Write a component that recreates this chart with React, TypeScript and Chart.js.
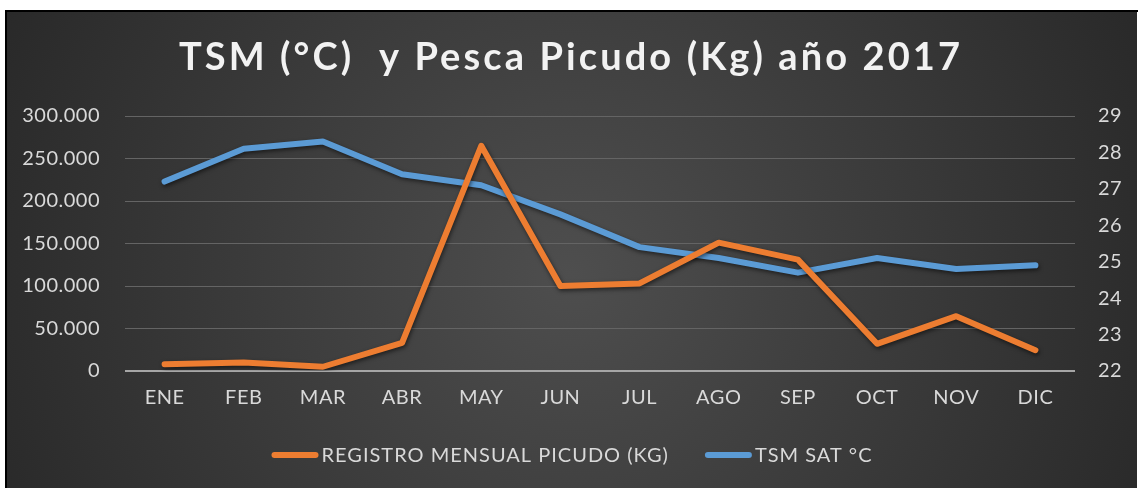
import React, { useEffect, useRef } from "react";
import { Chart, registerables } from "chart.js";

Chart.register(...registerables);

const months = ["ENE", "FEB", "MAR", "ABR", "MAY", "JUN", "JUL", "AGO", "SEP", "OCT", "NOV", "DIC"];
const picudoKg = [8000, 10000, 5000, 33000, 265000, 100000, 103000, 151000, 131000, 32000, 64500, 24500];
const tsmSat = [27.2, 28.1, 28.3, 27.4, 27.1, 26.3, 25.4, 25.1, 24.7, 25.1, 24.8, 24.9];
const leftTicks = [0, 50000, 100000, 150000, 200000, 250000, 300000];
const rightTicks = [22, 23, 24, 25, 26, 27, 28, 29];

const titleText = "TSM (°C)  y Pesca Picudo (Kg) año 2017";
const seriesNames = ["REGISTRO MENSUAL PICUDO (KG)", "TSM SAT °C"];
const ORANGE = "#ED7D31";
const BLUE = "#5B9BD5";
const TEXT = "#d9d9d9";
const FONT = "Lato, 'Open Sans', sans-serif";

const fmt = (v: number) => (v === 0 ? "0" : String(v).replace(/\B(?=(\d{3})+(?!\d))/g, "."));

const setSpacing = (ctx: any, s: string) => {
  if ("letterSpacing" in ctx) ctx.letterSpacing = s;
};

const deco = {
  id: "deco",
  beforeLayout(chart: any) {
    setSpacing(chart.ctx, "0.5px");
  },
  beforeDraw(chart: any) {
    const { ctx, width, height } = chart;
    ctx.save();
    const g = ctx.createRadialGradient(width / 2, height * 0.55, 0, width / 2, height * 0.55, width * 0.6);
    g.addColorStop(0, "#4e4e4e");
    g.addColorStop(1, "#262626");
    ctx.fillStyle = g;
    ctx.fillRect(0, 0, width, height);
    ctx.restore();
    setSpacing(ctx, "0.5px");
  },
  beforeDatasetDraw(chart: any) {
    const ctx = chart.ctx;
    ctx.save();
    ctx.shadowColor = "rgba(0,0,0,0.55)";
    ctx.shadowBlur = 4;
    ctx.shadowOffsetX = 1;
    ctx.shadowOffsetY = 2;
  },
  afterDatasetDraw(chart: any) {
    chart.ctx.restore();
  },
  afterDraw(chart: any) {
    const { ctx, width } = chart;
    // title
    ctx.save();
    setSpacing(ctx, "3.1px");
    ctx.font = `bold 38px ${FONT}`;
    ctx.fillStyle = "#f2f2f2";
    ctx.textAlign = "center";
    ctx.textBaseline = "middle";
    ctx.fillText(titleText, width / 2 - 1, 46);
    ctx.restore();

    // legend
    ctx.save();
    setSpacing(ctx, "1px");
    ctx.font = `20px ${FONT}`;
    ctx.textBaseline = "middle";
    ctx.textAlign = "left";
    const sw = 47;
    const gapText = 3;
    const gapItem = 36;
    const items = chart.data.datasets.map((d: any) => ({
      label: d.label,
      color: d.borderColor,
      w: ctx.measureText(d.label).width,
    }));
    const total = items.reduce((a: number, it: any) => a + sw + gapText + it.w, 0) + gapItem * (items.length - 1);
    let x = width / 2 - total / 2;
    const y = 443;
    for (const it of items) {
      ctx.strokeStyle = it.color;
      ctx.lineWidth = 6;
      ctx.lineCap = "round";
      ctx.beginPath();
      ctx.moveTo(x + 3, y);
      ctx.lineTo(x + sw - 3, y);
      ctx.stroke();
      ctx.fillStyle = TEXT;
      ctx.fillText(it.label, x + sw + gapText, y + 1);
      x += sw + gapText + it.w + gapItem;
    }
    ctx.restore();
  },
};

export default function App() {
  const ref = useRef<HTMLCanvasElement | null>(null);
  useEffect(() => {
    document.body.style.margin = "0";
    const c = ref.current!;
    const chart = new Chart(c, {
      type: "line",
      data: {
        labels: months,
        datasets: [
          {
            label: seriesNames[0],
            data: picudoKg,
            borderColor: ORANGE,
            backgroundColor: ORANGE,
            borderWidth: 6,
            pointRadius: 0,
            borderCapStyle: "round",
            borderJoinStyle: "round",
            yAxisID: "y",
            tension: 0,
          },
          {
            label: seriesNames[1],
            data: tsmSat,
            borderColor: BLUE,
            backgroundColor: BLUE,
            borderWidth: 6,
            pointRadius: 0,
            borderCapStyle: "round",
            borderJoinStyle: "round",
            yAxisID: "y1",
            tension: 0,
          },
        ],
      },
      plugins: [deco],
      options: {
        responsive: false,
        animation: false,
        layout: { padding: { left: 0, right: 0, top: 104, bottom: 77 } },
        plugins: {
          tooltip: { enabled: false },
          title: { display: false },
          legend: { display: false },
        },
        scales: {
          x: {
            offset: true,
            afterFit: (s: any) => {
              s.height = 40;
            },
            grid: { display: false, drawTicks: false },
            border: { display: false },
            ticks: { color: TEXT, font: { family: FONT, size: 20 }, padding: 15, maxRotation: 0 },
          },
          y: {
            position: "left",
            min: 0,
            max: 300000,
            afterBuildTicks: (s: any) => {
              s.ticks = leftTicks.map((v) => ({ value: v }));
            },
            afterFit: (s: any) => {
              s.width = 118;
            },
            grid: {
              drawTicks: false,
              color: (c: any) => (c.tick && c.tick.value === 0 ? "#a6a6a6" : "#646464"),
              lineWidth: (c: any) => (c.tick && c.tick.value === 0 ? 2 : 1),
            },
            border: { display: false },
            ticks: { color: TEXT, font: { family: FONT, size: 20 }, padding: 25, callback: (v: any) => fmt(Number(v)) },
          },
          y1: {
            position: "right",
            min: 22,
            max: 29,
            afterBuildTicks: (s: any) => {
              s.ticks = rightTicks.map((v) => ({ value: v }));
            },
            afterFit: (s: any) => {
              s.width = 62;
            },
            grid: { display: false, drawTicks: false },
            border: { display: false },
            ticks: { color: TEXT, font: { family: FONT, size: 20 }, padding: 23 },
          },
        },
      },
    });
    return () => chart.destroy();
  }, []);

  return (
    <div style={{ position: "relative", width: 1138, height: 488, background: "#ffffff", overflow: "hidden" }}>
      <div
        style={{
          position: "absolute",
          left: 5,
          top: 10,
          width: 1133,
          height: 478,
          borderLeft: "2px solid #000",
          borderTop: "2px solid #000",
          boxSizing: "border-box",
        }}
      />
      <canvas ref={ref} width={1130} height={476} style={{ position: "absolute", left: 7, top: 12, display: "block" }} />
    </div>
  );
}
